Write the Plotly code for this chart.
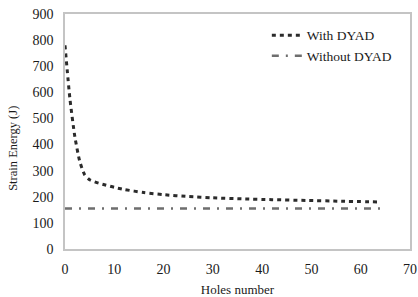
import plotly.graph_objects as go

holes = [0, 1, 2, 3, 4, 5, 6, 8, 10, 12, 16, 20, 25, 30, 36, 42, 49, 56, 64]
with_dyad = [780, 575, 430, 335, 284, 265, 257, 246, 236, 228, 216, 208, 201, 196, 192, 189, 186, 183, 180]
holes_without = [0, 64]
without_dyad = [155, 155]

fig = go.Figure()
fig.add_trace(go.Scatter(
    x=holes, y=with_dyad, mode="lines", name="With DYAD",
    line=dict(color="#2b2b2b", width=3, dash="4px,4px", shape="spline", smoothing=0.6),
))
fig.add_trace(go.Scatter(
    x=holes_without, y=without_dyad, mode="lines", name="Without DYAD",
    line=dict(color="#6e6e6e", width=2.5, dash="7px,7px,2px,7px"),
))

font = dict(family="Liberation Serif, Times New Roman, serif", size=14, color="#1a1a1a")
fig.update_layout(
    width=418, height=297,
    margin=dict(l=65, r=8, t=14, b=48, autoexpand=False),
    paper_bgcolor="white", plot_bgcolor="white",
    font=font,
    showlegend=True,
    legend=dict(x=0.585, y=0.975, xanchor="left", yanchor="top",
                bgcolor="rgba(0,0,0,0)", font=dict(size=13.5), itemwidth=30,
                tracegroupgap=2),
    xaxis=dict(range=[0, 70], dtick=10, showgrid=False, zeroline=False,
               showline=True, linecolor="#c4c4c4", linewidth=1.5, mirror=True,
               ticks="", automargin=False, tickfont=dict(size=14), ticklabelstandoff=6,
               title=dict(text="Holes number", standoff=11, font=dict(size=13))),
    yaxis=dict(range=[0, 900], dtick=100, showgrid=False, zeroline=False,
               showline=True, linecolor="#c4c4c4", linewidth=1.5, mirror=True,
               ticks="", automargin=False, tickfont=dict(size=14), ticklabelstandoff=7),
    annotations=[dict(text="Strain Energy (J)", textangle=-90, xref="paper", yref="paper",
                      x=-0.151, y=0.43, xanchor="center", yanchor="middle",
                      showarrow=False, font=dict(size=12.5))],
)
fig.write_html("out.html", config={"displayModeBar": False},
               post_script="document.body.style.margin='0';document.body.style.overflow='hidden';")
